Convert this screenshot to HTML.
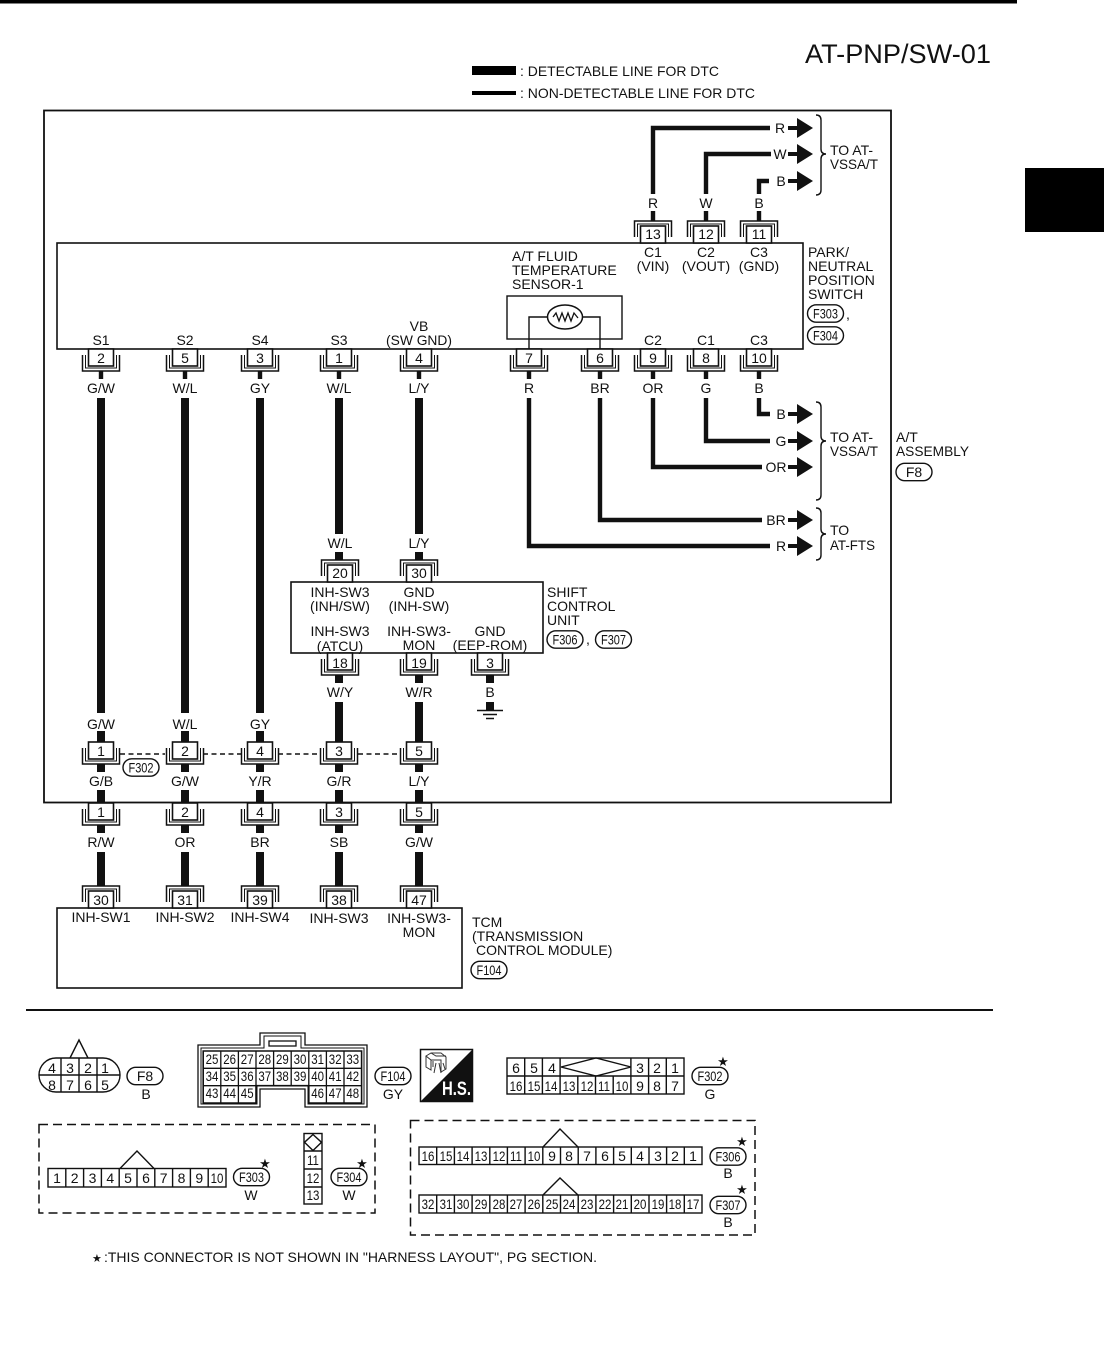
<!DOCTYPE html>
<html>
<head>
<meta charset="utf-8">
<style>
html,body{margin:0;padding:0;background:#fff;width:1104px;height:1346px;overflow:hidden}
svg{display:block}
text{font-family:"Liberation Sans",sans-serif;font-size:14px;fill:#111}
.n2 text,text.n2{transform-box:fill-box;transform-origin:center;transform:scaleX(.82)}
.s{font-family:"DejaVu Sans",sans-serif;font-size:13px}
</style>
</head>
<body>
<svg width="1104" height="1346" viewBox="0 0 1104 1346" xmlns="http://www.w3.org/2000/svg">
<defs>
<g id="c" fill="none" stroke="#111">
<path d="M-18.5,-6V-22H18.5V-6" stroke-width="1.5"/>
<path d="M-15.5,-6V-19H15.5V-6" stroke-width="1"/>
<rect x="-12.5" y="-17" width="25" height="17" fill="#fff" stroke-width="1.6"/>
</g>
<g id="ar"><path d="M0,0H11" stroke="#111" stroke-width="4"/><path d="M9,-10L25,0L9,10Z" fill="#111"/></g>
<rect id="ov" x="-18" y="-8.7" width="36" height="17.4" rx="8.7" fill="#fff" stroke="#111" stroke-width="1.4"/>
</defs>

<rect x="0" y="0" width="1017" height="3.5" fill="#000"/>
<rect x="1025" y="168" width="79" height="64" fill="#000"/>
<text x="805" y="63" style="font-size:26.5px" textLength="186" lengthAdjust="spacingAndGlyphs">AT-PNP/SW-01</text>
<rect x="472" y="66" width="44" height="9" fill="#000"/>
<rect x="472" y="91" width="44" height="4" fill="#000"/>
<text x="520" y="76" textLength="199" lengthAdjust="spacingAndGlyphs">: DETECTABLE LINE FOR DTC</text>
<text x="520" y="98" textLength="235" lengthAdjust="spacingAndGlyphs">: NON-DETECTABLE LINE FOR DTC</text>

<rect x="44" y="110.5" width="847" height="692" fill="none" stroke="#111" stroke-width="1.8"/>
<rect x="57" y="243" width="746" height="106" fill="none" stroke="#111" stroke-width="1.6"/>
<rect x="291" y="582" width="252" height="71" fill="none" stroke="#111" stroke-width="1.6"/>
<rect x="57" y="908" width="405" height="80" fill="none" stroke="#111" stroke-width="1.6"/>
<rect x="26" y="1009" width="967" height="2" fill="#111"/>

<!-- thin wires -->
<g fill="none" stroke="#111" stroke-width="4.4">
<path d="M653,194V128H770"/><path d="M706,194V154H771"/><path d="M759,194V181H769"/>
<path d="M653,211V221M706,211V221M759,211V221"/>
<path d="M101,371V379M185,371V379M260,371V379M339,371V379M419,371V379M529,371V379M600,371V379M653,371V379M706,371V379M759,371V379"/>
<path d="M529,398V546H770"/><path d="M600,398V520H762"/><path d="M653,398V467H762"/><path d="M706,398V441H770"/><path d="M759,398V414H770"/>
</g>
<use href="#ar" x="788" y="128"/><use href="#ar" x="788" y="154"/><use href="#ar" x="788" y="181"/>
<use href="#ar" x="788" y="414"/><use href="#ar" x="788" y="441"/><use href="#ar" x="788" y="467"/>
<use href="#ar" x="788" y="520"/><use href="#ar" x="788" y="546"/>

<!-- thick wires -->
<g fill="none" stroke="#111" stroke-width="8">
<path d="M101,398V713M185,398V713M260,398V713"/>
<path d="M339,398V534M419,398V534"/>
<path d="M339,552V560M419,552V560"/>
<path d="M339,675V683M419,675V683M490,675V683"/>
<path d="M339,702V742M419,702V742"/>
<path d="M490,702V710"/>
<path d="M101,731V742M185,731V742M260,731V742M339,731V742M419,731V742"/>
<path d="M101,764V772M185,764V772M260,764V772M339,764V772M419,764V772"/>
<path d="M101,790V803M185,790V803M260,790V803M339,790V803M419,790V803"/>
<path d="M101,825V833M185,825V833M260,825V833M339,825V833M419,825V833"/>
<path d="M101,852V886M185,852V886M260,852V886M339,852V886M419,852V886"/>
</g>

<!-- ground -->
<path d="M477,710.5H503M483,714.5H497M486,718.5H494" stroke="#111" stroke-width="1.4" fill="none"/>

<!-- dashed inline -->
<path d="M120,754H165M203,754H243M278,754H321M358,754H401" stroke="#111" stroke-width="1.4" stroke-dasharray="5,3.5" fill="none"/>

<!-- connectors top -->
<use href="#c" transform="translate(653,243)"/><use href="#c" transform="translate(706,243)"/><use href="#c" transform="translate(759,243)"/>
<use href="#c" transform="translate(340,582)"/><use href="#c" transform="translate(419,582)"/>
<use href="#c" transform="translate(101,908)"/><use href="#c" transform="translate(185,908)"/><use href="#c" transform="translate(260,908)"/><use href="#c" transform="translate(339,908)"/><use href="#c" transform="translate(419,908)"/>
<!-- connectors bottom -->
<g>
<use href="#c" transform="translate(101,349) scale(1,-1)"/><use href="#c" transform="translate(185,349) scale(1,-1)"/><use href="#c" transform="translate(260,349) scale(1,-1)"/><use href="#c" transform="translate(339,349) scale(1,-1)"/><use href="#c" transform="translate(419,349) scale(1,-1)"/><use href="#c" transform="translate(529,349) scale(1,-1)"/><use href="#c" transform="translate(600,349) scale(1,-1)"/><use href="#c" transform="translate(653,349) scale(1,-1)"/><use href="#c" transform="translate(706,349) scale(1,-1)"/><use href="#c" transform="translate(759,349) scale(1,-1)"/>
<use href="#c" transform="translate(340,653) scale(1,-1)"/><use href="#c" transform="translate(419,653) scale(1,-1)"/><use href="#c" transform="translate(490,653) scale(1,-1)"/>
<use href="#c" transform="translate(101,742) scale(1,-1)"/><use href="#c" transform="translate(185,742) scale(1,-1)"/><use href="#c" transform="translate(260,742) scale(1,-1)"/><use href="#c" transform="translate(339,742) scale(1,-1)"/><use href="#c" transform="translate(419,742) scale(1,-1)"/>
<use href="#c" transform="translate(101,803) scale(1,-1)"/><use href="#c" transform="translate(185,803) scale(1,-1)"/><use href="#c" transform="translate(260,803) scale(1,-1)"/><use href="#c" transform="translate(339,803) scale(1,-1)"/><use href="#c" transform="translate(419,803) scale(1,-1)"/>
</g>

<!-- sensor -->
<rect x="507" y="296" width="115" height="43" fill="none" stroke="#111" stroke-width="1.4"/>
<path d="M529,349V317H547M583,317H600V349" fill="none" stroke="#111" stroke-width="1.4"/>
<ellipse cx="565" cy="317" rx="17.5" ry="12" fill="#fff" stroke="#111" stroke-width="1.5"/>
<path d="M553,317L556,313L559,321L562,313L565,321L568,313L571,321L574,313L578,318" fill="none" stroke="#111" stroke-width="1.3"/>

<!-- braces -->
<g fill="none" stroke="#111" stroke-width="1.4">
<path d="M816,115Q821,115 821,120V149Q821,154 826,154Q821,154 821,159V190Q821,195 816,195"/>
<path d="M816,402Q821,402 821,407V436Q821,441 826,441Q821,441 821,446V495Q821,500 816,500"/>
<path d="M816,508Q821,508 821,513V529Q821,534 826,534Q821,534 821,539V555Q821,560 816,560"/>
</g>

<!-- centered text -->
<g text-anchor="middle">
<text x="780" y="133">R</text><text x="780" y="159">W</text><text x="781" y="186">B</text>
<text x="781" y="419">B</text><text x="781" y="446">G</text><text x="776" y="472">OR</text><text x="776" y="525">BR</text><text x="781" y="551">R</text>
<text x="653" y="208">R</text><text x="706" y="208">W</text><text x="759" y="208">B</text>
<text x="653" y="239">13</text><text x="706" y="239">12</text><text x="759" y="239">11</text>
<text x="653" y="257">C1</text><text x="653" y="271">(VIN)</text>
<text x="706" y="257">C2</text><text x="706" y="271">(VOUT)</text>
<text x="759" y="257">C3</text><text x="759" y="271">(GND)</text>
<text x="101" y="345">S1</text><text x="185" y="345">S2</text><text x="260" y="345">S4</text><text x="339" y="345">S3</text>
<text x="419" y="331">VB</text><text x="419" y="345" textLength="66" lengthAdjust="spacingAndGlyphs">(SW GND)</text>
<text x="653" y="345">C2</text><text x="706" y="345">C1</text><text x="759" y="345">C3</text>
<text x="101" y="363">2</text><text x="185" y="363">5</text><text x="260" y="363">3</text><text x="339" y="363">1</text><text x="419" y="363">4</text><text x="529" y="363">7</text><text x="600" y="363">6</text><text x="653" y="363">9</text><text x="706" y="363">8</text><text x="759" y="363">10</text>
<text x="101" y="393">G/W</text><text x="185" y="393">W/L</text><text x="260" y="393">GY</text><text x="339" y="393">W/L</text><text x="419" y="393">L/Y</text><text x="529" y="393">R</text><text x="600" y="393">BR</text><text x="653" y="393">OR</text><text x="706" y="393">G</text><text x="759" y="393">B</text>
<text x="340" y="548">W/L</text><text x="419" y="548">L/Y</text>
<text x="340" y="578">20</text><text x="419" y="578">30</text>
<text x="340" y="597">INH-SW3</text><text x="340" y="611">(INH/SW)</text>
<text x="419" y="597">GND</text><text x="419" y="611">(INH-SW)</text>
<text x="340" y="636">INH-SW3</text><text x="340" y="651">(ATCU)</text>
<text x="419" y="636">INH-SW3-</text><text x="419" y="650">MON</text>
<text x="490" y="636">GND</text><text x="490" y="650">(EEP-ROM)</text>
<text x="340" y="668">18</text><text x="419" y="668">19</text><text x="490" y="668">3</text>
<text x="340" y="697">W/Y</text><text x="419" y="697">W/R</text><text x="490" y="697">B</text>
<text x="101" y="729">G/W</text><text x="185" y="729">W/L</text><text x="260" y="729">GY</text>
<text x="101" y="756">1</text><text x="185" y="756">2</text><text x="260" y="756">4</text><text x="339" y="756">3</text><text x="419" y="756">5</text>
<text x="101" y="786">G/B</text><text x="185" y="786">G/W</text><text x="260" y="786">Y/R</text><text x="339" y="786">G/R</text><text x="419" y="786">L/Y</text>
<text x="101" y="817">1</text><text x="185" y="817">2</text><text x="260" y="817">4</text><text x="339" y="817">3</text><text x="419" y="817">5</text>
<text x="101" y="847">R/W</text><text x="185" y="847">OR</text><text x="260" y="847">BR</text><text x="339" y="847">SB</text><text x="419" y="847">G/W</text>
<text x="101" y="905">30</text><text x="185" y="905">31</text><text x="260" y="905">39</text><text x="339" y="905">38</text><text x="419" y="905">47</text>
<text x="101" y="922">INH-SW1</text><text x="185" y="922">INH-SW2</text><text x="260" y="922">INH-SW4</text><text x="339" y="923">INH-SW3</text><text x="419" y="923">INH-SW3-</text><text x="419" y="937">MON</text>
</g>

<!-- left text -->
<text x="512" y="261">A/T FLUID</text><text x="512" y="275">TEMPERATURE</text><text x="512" y="289">SENSOR-1</text>
<text x="808" y="257">PARK/</text><text x="808" y="271">NEUTRAL</text><text x="808" y="285">POSITION</text><text x="808" y="299">SWITCH</text>
<text x="846" y="319">,</text>
<text x="830" y="155">TO AT-</text><text x="830" y="169" textLength="48" lengthAdjust="spacingAndGlyphs">VSSA/T</text>
<text x="830" y="442">TO AT-</text><text x="830" y="456" textLength="48" lengthAdjust="spacingAndGlyphs">VSSA/T</text>
<text x="830" y="535">TO</text><text x="830" y="550" textLength="45" lengthAdjust="spacingAndGlyphs">AT-FTS</text>
<text x="896" y="442">A/T</text><text x="896" y="456" textLength="73" lengthAdjust="spacingAndGlyphs">ASSEMBLY</text>
<text x="547" y="597">SHIFT</text><text x="547" y="611">CONTROL</text><text x="547" y="625">UNIT</text>
<text x="586" y="644">,</text>
<text x="472" y="927">TCM</text><text x="472" y="941">(TRANSMISSION</text><text x="476" y="955">CONTROL MODULE)</text>

<!-- ovals -->
<use href="#ov" x="825.5" y="313.5"/><text x="825.5" y="318.5" text-anchor="middle" textLength="25" lengthAdjust="spacingAndGlyphs">F303</text>
<use href="#ov" x="825.5" y="335.5"/><text x="825.5" y="340.5" text-anchor="middle" textLength="25" lengthAdjust="spacingAndGlyphs">F304</text>
<use href="#ov" x="914" y="472"/><text x="914" y="477" text-anchor="middle">F8</text>
<use href="#ov" x="565" y="639.5"/><text x="565" y="644.5" text-anchor="middle" textLength="25" lengthAdjust="spacingAndGlyphs">F306</text>
<use href="#ov" x="613.5" y="639.5"/><text x="613.5" y="644.5" text-anchor="middle" textLength="25" lengthAdjust="spacingAndGlyphs">F307</text>
<use href="#ov" x="141" y="767.5"/><text x="141" y="772.5" text-anchor="middle" textLength="25" lengthAdjust="spacingAndGlyphs">F302</text>
<use href="#ov" x="489" y="970"/><text x="489" y="975" text-anchor="middle" textLength="25" lengthAdjust="spacingAndGlyphs">F104</text>

<!-- F8 connector -->
<g fill="none" stroke="#111" stroke-width="1.4">
<rect x="39" y="1058" width="81" height="34" rx="17"/>
<path d="M39,1075H120M61,1058V1092M79,1058V1092M97,1058V1092M70,1058L79,1040L88,1058"/>
</g>
<g text-anchor="middle">
<text x="52" y="1073">4</text><text x="70" y="1073">3</text><text x="88" y="1073">2</text><text x="105" y="1073">1</text>
<text x="52" y="1090">8</text><text x="70" y="1090">7</text><text x="88" y="1090">6</text><text x="105" y="1090">5</text>
</g>
<use href="#ov" x="145" y="1076"/><text x="145" y="1081" text-anchor="middle">F8</text>
<text x="146" y="1099" text-anchor="middle">B</text>

<!-- F104 connector -->
<g fill="none" stroke="#111" stroke-width="1.3">
<path d="M198,1107V1045H260V1033H305V1045H367V1107H305V1089H260V1107Z"/>
<path d="M201,1104V1048H264V1036H301V1048H364V1104H308V1086H257V1104Z" stroke-width="1"/>
<rect x="269" y="1041" width="27" height="5"/>
<path d="M203.2,1051H361.6V1103H308.8V1085.7H256V1103H203.2Z" stroke-width="1.6"/>
<path d="M203.2,1068.3H361.6M203.2,1085.7H256M308.8,1085.7H361.6"/>
<path d="M220.8,1051V1103M238.4,1051V1103M256,1051V1085.7M273.6,1051V1085.7M291.2,1051V1085.7M308.8,1051V1085.7M326.4,1051V1103M344,1051V1103"/>
</g>
<g text-anchor="middle" class="n2">
<text x="212" y="1064">25</text><text x="229.6" y="1064">26</text><text x="247.2" y="1064">27</text><text x="264.8" y="1064">28</text><text x="282.4" y="1064">29</text><text x="300" y="1064">30</text><text x="317.6" y="1064">31</text><text x="335.2" y="1064">32</text><text x="352.8" y="1064">33</text>
<text x="212" y="1081">34</text><text x="229.6" y="1081">35</text><text x="247.2" y="1081">36</text><text x="264.8" y="1081">37</text><text x="282.4" y="1081">38</text><text x="300" y="1081">39</text><text x="317.6" y="1081">40</text><text x="335.2" y="1081">41</text><text x="352.8" y="1081">42</text>
<text x="212" y="1098">43</text><text x="229.6" y="1098">44</text><text x="247.2" y="1098">45</text><text x="317.6" y="1098">46</text><text x="335.2" y="1098">47</text><text x="352.8" y="1098">48</text>
</g>
<use href="#ov" x="393" y="1076"/><text x="393" y="1081" text-anchor="middle" textLength="25" lengthAdjust="spacingAndGlyphs">F104</text>
<text x="393" y="1099" text-anchor="middle">GY</text>

<!-- H.S. icon -->
<rect x="420.5" y="1049.5" width="52" height="52" fill="#fff" stroke="#111" stroke-width="1.5"/>
<path d="M472,1050V1101H421Z" fill="#111"/>
<path d="M426,1056L431,1053H441L446,1057V1069L441,1072V1060H431L426,1056ZM426,1056V1067L431,1070V1060M431,1053L436,1056H446M433,1061V1067M436,1063L434,1073M439,1063L441,1073M443,1063L445,1069" fill="none" stroke="#333" stroke-width="1"/>
<text x="442" y="1095" style="font-size:19.5px;font-weight:bold;fill:#fff" textLength="29" lengthAdjust="spacingAndGlyphs">H.S.</text>

<!-- F302 connector -->
<g fill="none" stroke="#111" stroke-width="1.4">
<rect x="507" y="1058" width="177" height="36"/>
<path d="M507,1076H684M524.7,1058V1094M542.4,1058V1094M560.1,1058V1094M577.8,1076V1094M595.5,1076V1094M613.2,1076V1094M630.9,1058V1094M648.6,1058V1094M666.3,1058V1094"/>
<path d="M561,1067L596,1058L631,1067L596,1076Z"/>
</g>
<g text-anchor="middle">
<text x="516" y="1073">6</text><text x="534" y="1073">5</text><text x="552" y="1073">4</text><text x="640" y="1073">3</text><text x="657" y="1073">2</text><text x="675" y="1073">1</text>
<g class="n2"><text x="516" y="1091">16</text><text x="534" y="1091">15</text><text x="551" y="1091">14</text><text x="569" y="1091">13</text><text x="587" y="1091">12</text><text x="604" y="1091">11</text><text x="622" y="1091">10</text></g>
<text x="640" y="1091">9</text><text x="657" y="1091">8</text><text x="675" y="1091">7</text>
</g>
<use href="#ov" x="710" y="1076"/><text x="710" y="1081" text-anchor="middle" textLength="25" lengthAdjust="spacingAndGlyphs">F302</text>
<text x="710" y="1099" text-anchor="middle">G</text>
<text x="723" y="1066" text-anchor="middle" class="s">★</text>

<!-- dashed boxes -->
<rect x="39" y="1124.5" width="336" height="88.5" fill="none" stroke="#111" stroke-width="1.5" stroke-dasharray="9,5"/>
<rect x="410.5" y="1120.5" width="344.5" height="114.5" fill="none" stroke="#111" stroke-width="1.5" stroke-dasharray="9,5"/>

<!-- F303 -->
<g fill="none" stroke="#111" stroke-width="1.4">
<rect x="48" y="1168.5" width="178" height="18.5"/>
<path d="M65.8,1168.5V1187M83.6,1168.5V1187M101.4,1168.5V1187M119.2,1168.5V1187M137,1168.5V1187M154.8,1168.5V1187M172.6,1168.5V1187M190.4,1168.5V1187M208.2,1168.5V1187"/>
<path d="M120,1168.5L137,1151L154,1168.5"/>
</g>
<g text-anchor="middle">
<text x="57" y="1183">1</text><text x="74.7" y="1183">2</text><text x="92.5" y="1183">3</text><text x="110.3" y="1183">4</text><text x="128" y="1183">5</text><text x="146" y="1183">6</text><text x="163.7" y="1183">7</text><text x="181.5" y="1183">8</text><text x="199.3" y="1183">9</text><text x="217" y="1183" class="n2">10</text>
</g>
<use href="#ov" x="251.5" y="1177"/><text x="251.5" y="1182" text-anchor="middle" textLength="25" lengthAdjust="spacingAndGlyphs">F303</text>
<text x="251" y="1200" text-anchor="middle">W</text>
<text x="265" y="1168" text-anchor="middle" class="s">★</text>

<!-- F304 -->
<g fill="none" stroke="#111" stroke-width="1.4">
<rect x="304" y="1133.5" width="18" height="70.5"/>
<path d="M304,1151H322M304,1169H322M304,1187H322M313,1134.5L321.5,1142.3L313,1150.5L304.5,1142.3Z"/>
</g>
<g text-anchor="middle" class="n2">
<text x="313" y="1165">11</text><text x="313" y="1183">12</text><text x="313" y="1200">13</text>
</g>
<use href="#ov" x="349" y="1177"/><text x="349" y="1182" text-anchor="middle" textLength="25" lengthAdjust="spacingAndGlyphs">F304</text>
<text x="349" y="1200" text-anchor="middle">W</text>
<text x="362" y="1168" text-anchor="middle" class="s">★</text>

<!-- F306 -->
<g fill="none" stroke="#111" stroke-width="1.4">
<rect x="419" y="1147" width="283" height="17.5"/>
<path d="M436.7,1147V1164.5M454.4,1147V1164.5M472.1,1147V1164.5M489.8,1147V1164.5M507.4,1147V1164.5M525.1,1147V1164.5M542.8,1147V1164.5M560.5,1147V1164.5M578.2,1147V1164.5M595.9,1147V1164.5M613.6,1147V1164.5M631.3,1147V1164.5M649,1147V1164.5M666.6,1147V1164.5M684.3,1147V1164.5"/>
<path d="M543,1147L560,1129L578,1147"/>
</g>
<g text-anchor="middle">
<g class="n2"><text x="428" y="1161">16</text><text x="446" y="1161">15</text><text x="463" y="1161">14</text><text x="481" y="1161">13</text><text x="499" y="1161">12</text><text x="516" y="1161">11</text><text x="534" y="1161">10</text></g>
<text x="552" y="1161">9</text><text x="569" y="1161">8</text><text x="587" y="1161">7</text><text x="605" y="1161">6</text><text x="622" y="1161">5</text><text x="640" y="1161">4</text><text x="658" y="1161">3</text><text x="675" y="1161">2</text><text x="693" y="1161">1</text>
</g>
<use href="#ov" x="728" y="1156.5"/><text x="728" y="1161.5" text-anchor="middle" textLength="25" lengthAdjust="spacingAndGlyphs">F306</text>
<text x="728" y="1178" text-anchor="middle">B</text>
<text x="742" y="1146" text-anchor="middle" class="s">★</text>

<!-- F307 -->
<g fill="none" stroke="#111" stroke-width="1.4">
<rect x="419" y="1195" width="283" height="18"/>
<path d="M436.7,1195V1213M454.4,1195V1213M472.1,1195V1213M489.8,1195V1213M507.4,1195V1213M525.1,1195V1213M542.8,1195V1213M560.5,1195V1213M578.2,1195V1213M595.9,1195V1213M613.6,1195V1213M631.3,1195V1213M649,1195V1213M666.6,1195V1213M684.3,1195V1213"/>
<path d="M543,1195L560,1178L578,1195"/>
</g>
<g text-anchor="middle" class="n2">
<text x="428" y="1209">32</text><text x="446" y="1209">31</text><text x="463" y="1209">30</text><text x="481" y="1209">29</text><text x="499" y="1209">28</text><text x="516" y="1209">27</text><text x="534" y="1209">26</text><text x="552" y="1209">25</text><text x="569" y="1209">24</text><text x="587" y="1209">23</text><text x="605" y="1209">22</text><text x="622" y="1209">21</text><text x="640" y="1209">20</text><text x="658" y="1209">19</text><text x="675" y="1209">18</text><text x="693" y="1209">17</text>
</g>
<use href="#ov" x="728" y="1205"/><text x="728" y="1210" text-anchor="middle" textLength="25" lengthAdjust="spacingAndGlyphs">F307</text>
<text x="728" y="1227" text-anchor="middle">B</text>
<text x="742" y="1194" text-anchor="middle" class="s">★</text>

<!-- footnote -->
<text x="92" y="1262" class="s" style="font-size:11px">★</text>
<text x="104" y="1262" textLength="493" lengthAdjust="spacingAndGlyphs">:THIS CONNECTOR IS NOT SHOWN IN "HARNESS LAYOUT", PG SECTION.</text>
</svg>
</body>
</html>
